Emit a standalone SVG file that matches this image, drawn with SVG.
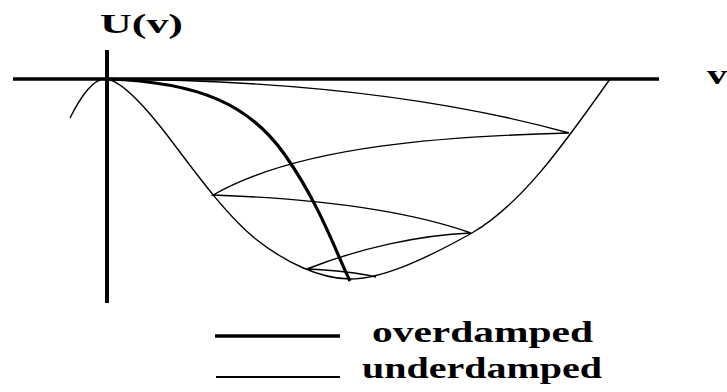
<svg xmlns="http://www.w3.org/2000/svg" width="727" height="392" viewBox="0 0 727 392">
<style>
.ax{stroke:#000;stroke-linecap:butt;fill:none}
.thin{stroke:#000;stroke-width:1.4;fill:none}
.thick{stroke:#000;stroke-width:3.2;fill:none}
.lbl{font-family:"Liberation Serif","Times New Roman",serif;font-weight:bold;fill:#000}
</style>
<rect width="727" height="392" fill="#fff"/>
<g id="axes">
<line class="ax" x1="13" y1="79" x2="659" y2="79" stroke-width="3.5"/>
<line class="ax" x1="107" y1="50" x2="107" y2="303" stroke-width="4"/>
</g>
<g id="potential">
<path class="thin" d="M70,118 C80,98 92,80 104,79 C118,78 140,100 167,135 C190,165 225,215 257,240 C285,262 320,279 350,279 C380,279 420,262 472,233 C520,205 560,150 610,79"/>
</g>
<g id="connectors">
<path id="underdamped" class="thin" d="M107,79 C300,80 450,100 569,133 C450,136 300,145 213,195 C300,198 400,208 471,233 C420,235 360,248 307,269 C330,270 355,272 376,277"/>
<path id="overdamped" class="thick" d="M107,79 C200,82 250,105 285,155 C320,205 335,250 350,281"/>
</g>
<g id="labels">
<text class="lbl" x="100" y="33" font-size="28" textLength="83" lengthAdjust="spacingAndGlyphs">U(v)</text>
<text class="lbl" x="707" y="84" font-size="27" textLength="20" lengthAdjust="spacingAndGlyphs">v</text>
</g>
<g id="legend">
<line class="ax" x1="215" y1="336" x2="340" y2="336" stroke-width="3.5"/>
<line class="ax" x1="216" y1="377" x2="340" y2="377" stroke-width="1.8"/>
<text class="lbl" x="372" y="342" font-size="30" textLength="221" lengthAdjust="spacingAndGlyphs">overdamped</text>
<text class="lbl" x="362" y="378" font-size="30" textLength="240" lengthAdjust="spacingAndGlyphs">underdamped</text>
</g>
</svg>
